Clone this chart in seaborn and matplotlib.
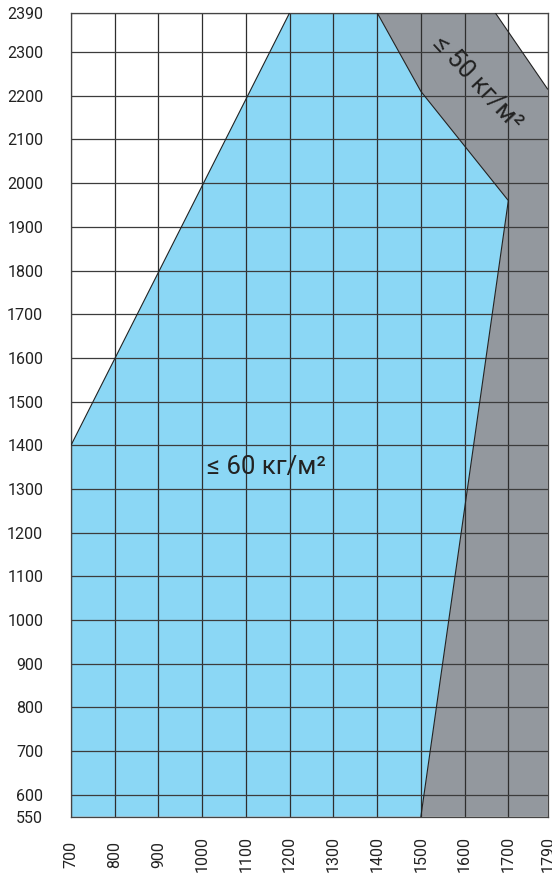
"""
Load zone chart: width (x) vs height (y), two load classes.
"""

import matplotlib
matplotlib.use("Agg")
import matplotlib.pyplot as plt
import numpy as np
import pandas as pd
import seaborn as sns

# ---------------------------------------------------------------------------
# Data
# ---------------------------------------------------------------------------

x_ticks = [700, 800, 900, 1000, 1100, 1200, 1300, 1400, 1500, 1600, 1700, 1790]
y_ticks = [550, 600, 700, 800, 900, 1000, 1100, 1200, 1300, 1400, 1500, 1600,
           1700, 1800, 1900, 2000, 2100, 2200, 2300, 2390]

# <= 60 kg/m2 zone (blue)
zone60_x = [700, 700, 1200, 1400, 1500, 1700, 1500]
zone60_y = [550, 1400, 2390, 2390, 2210, 1960, 550]

# <= 50 kg/m2 zone (grey)
zone50_x = [1500, 1700, 1500, 1400, 1670, 1790, 1790]
zone50_y = [550, 1960, 2210, 2390, 2390, 2215, 550]

# boundary lines
edge_left_x = [700, 1200]
edge_left_y = [1400, 2390]
edge_mid_x = [1400, 1500, 1700, 1500]
edge_mid_y = [2390, 2210, 1960, 550]
edge_right_x = [1670, 1790]
edge_right_y = [2390, 2215]

label60 = "≤ 60 кг/м²"
label50 = "≤ 50 кг/м²"

# ---------------------------------------------------------------------------
# Plot
# ---------------------------------------------------------------------------

sns.set_theme(style="white")
plt.rcParams["font.family"] = ["Roboto", "DejaVu Sans"]

fig = plt.figure(figsize=(5.52, 8.77), dpi=100)
ax = fig.add_axes([0.1286, 0.0688, 0.8636, 0.9167])

ax.fill(zone60_x, zone60_y, color="#8bd7f5", lw=0, zorder=1)
ax.fill(zone50_x, zone50_y, color="#93989e", lw=0, zorder=1)

# grid
for xv in x_ticks:
    ax.axvline(xv, color="#2e2e2e", lw=0.9, zorder=2)
for yv in y_ticks:
    ax.axhline(yv, color="#3c3c3c", lw=0.9, zorder=2)

# zone outlines
for ex, ey in [(edge_left_x, edge_left_y), (edge_mid_x, edge_mid_y),
               (edge_right_x, edge_right_y)]:
    df = pd.DataFrame({"x": ex, "y": ey})
    sns.lineplot(data=df, x="x", y="y", sort=False, estimator=None,
                 color="#222222", lw=0.8, ax=ax, zorder=3)

ax.text(1146, 1350, label60, fontsize=18.5, color="#222222",
        ha="center", va="center", zorder=4)
ax.text(1630, 2228, label50, fontsize=18.5, color="#222222",
        ha="center", va="center", rotation=-47, rotation_mode="anchor",
        zorder=4)

ax.set_xlim(700, 1790)
ax.set_ylim(550, 2390)
ax.set_xticks(x_ticks)
ax.set_yticks(y_ticks)
ax.set_xticklabels([str(v) for v in x_ticks], rotation=90)
ax.set_xlabel("")
ax.set_ylabel("")
ax.tick_params(axis="both", length=0, labelsize=11.5, colors="#222222")
ax.tick_params(axis="y", pad=20)
ax.tick_params(axis="x", pad=27)
for lab in ax.get_xticklabels():
    lab.set_verticalalignment("center")

for s in ax.spines.values():
    s.set_color("#444444")
    s.set_linewidth(0.9)

fig.savefig("out.png", dpi=100)
plt.close(fig)
